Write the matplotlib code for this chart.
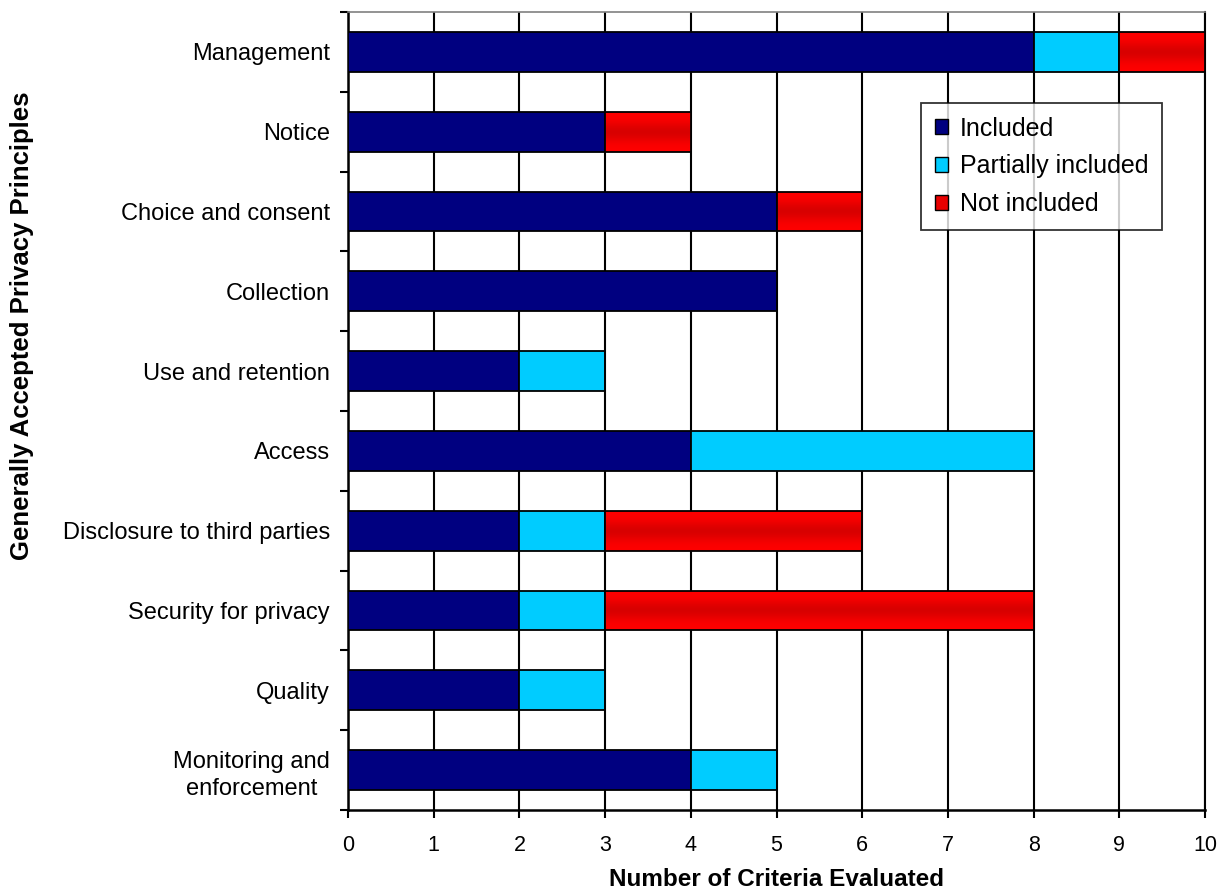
import matplotlib
matplotlib.use("Agg")
import matplotlib.pyplot as plt
import numpy as np
from matplotlib.patches import Patch

plt.rcParams['font.family'] = ['Liberation Sans', 'DejaVu Sans']

categories = [
    "Management",
    "Notice",
    "Choice and consent",
    "Collection",
    "Use and retention",
    "Access",
    "Disclosure to third parties",
    "Security for privacy",
    "Quality",
    "Monitoring and\nenforcement",
]
included = [8, 3, 5, 5, 2, 4, 2, 2, 2, 4]
partially = [1, 0, 0, 0, 1, 4, 1, 1, 1, 1]
not_included = [1, 1, 1, 0, 0, 0, 3, 5, 0, 0]
x_ticks = list(range(0, 11))

navy = "#000080"
cyan = "#00CCFF"

fig = plt.figure(figsize=(12.28, 8.92), dpi=100)
ax = fig.add_axes([348 / 1228, 1 - 810 / 892, (1205 - 348) / 1228, (810 - 12) / 892])

y = np.arange(len(categories))
h = 0.5
inc = np.array(included)
par = np.array(partially)
noi = np.array(not_included)

ax.barh(y, inc, height=h, color=navy, edgecolor="black", linewidth=1.3, zorder=3)
ax.barh(y, par, left=inc, height=h, color=cyan, edgecolor="black", linewidth=1.3, zorder=3)
red_bars = ax.barh(y, noi, left=inc + par, height=h, color="none",
                   edgecolor="black", linewidth=1.3, zorder=4)

# vertical shading for the red segments: bright at the edges, darker in the middle
t = np.linspace(0, 1, 64)
w = np.exp(-((t - 0.5) / 0.25) ** 2)
c_edge = np.array([1.0, 0.0, 0.0])
c_mid = np.array([0.85, 0.0, 0.0])
grad = (c_edge[None, :] * (1 - w)[:, None] + c_mid[None, :] * w[:, None])[:, None, :]
for p in red_bars.patches:
    if p.get_width() <= 0:
        continue
    x0, y0 = p.get_x(), p.get_y()
    x1, y1 = x0 + p.get_width(), y0 + p.get_height()
    im = ax.imshow(grad, extent=[x0, x1, y1, y0], aspect="auto", zorder=3.5,
                   interpolation="bilinear")
    im.set_clip_path(p)

ax.set_xlim(0, 10)
ax.set_ylim(len(categories) - 0.5, -0.5)

ax.set_xticks(x_ticks)
ax.set_xticklabels([str(v) for v in x_ticks], fontsize=15.5)
ax.set_yticks(y)
ax.set_yticklabels(categories, fontsize=17)
for lbl in ax.get_yticklabels():
    lbl.set_multialignment("center")
    lbl.set_linespacing(1.3)
ax.set_yticks(np.arange(-0.5, len(categories)), minor=True)

ax.tick_params(axis="y", which="major", length=0, pad=13)
ax.tick_params(axis="y", which="minor", length=6, width=1.5, direction="out")
ax.tick_params(axis="x", which="major", length=6, width=1.5, direction="out", pad=12)

ax.grid(axis="x", color="black", linewidth=1.5, zorder=1)
ax.set_axisbelow(True)

for side in ["left", "bottom"]:
    ax.spines[side].set_color("black")
    ax.spines[side].set_linewidth(1.8)
ax.spines["right"].set_color("black")
ax.spines["right"].set_linewidth(1.5)
ax.spines["top"].set_color("#808080")
ax.spines["top"].set_linewidth(1.2)

ax.set_xlabel("Number of Criteria Evaluated", fontsize=17.5, fontweight="bold", va="center")
ax.xaxis.set_label_coords(0.5, -(880 - 810) / 798)
ax.set_ylabel("Generally Accepted Privacy Principles", fontsize=18.5, fontweight="bold",
              va="center")
ax.yaxis.set_label_coords(-(348 - 22) / 857, 1 - (326 - 12) / 798)

handles = [
    Patch(facecolor=navy, edgecolor="black", label="Included"),
    Patch(facecolor=cyan, edgecolor="black", label="Partially included"),
    Patch(facecolor="#E80000", edgecolor="black", label="Not included"),
]
leg = ax.legend(handles=handles, loc="upper left", bbox_to_anchor=(0.6686, 0.886),
                fontsize=18, frameon=True, fancybox=False, shadow=False,
                handlelength=0.55, handleheight=0.55, handletextpad=0.45,
                labelspacing=0.55, borderpad=0.55, borderaxespad=0)
leg.get_frame().set_edgecolor("black")
leg.get_frame().set_linewidth(1.3)
leg.set_zorder(6)

fig.savefig("out.png", dpi=100)
